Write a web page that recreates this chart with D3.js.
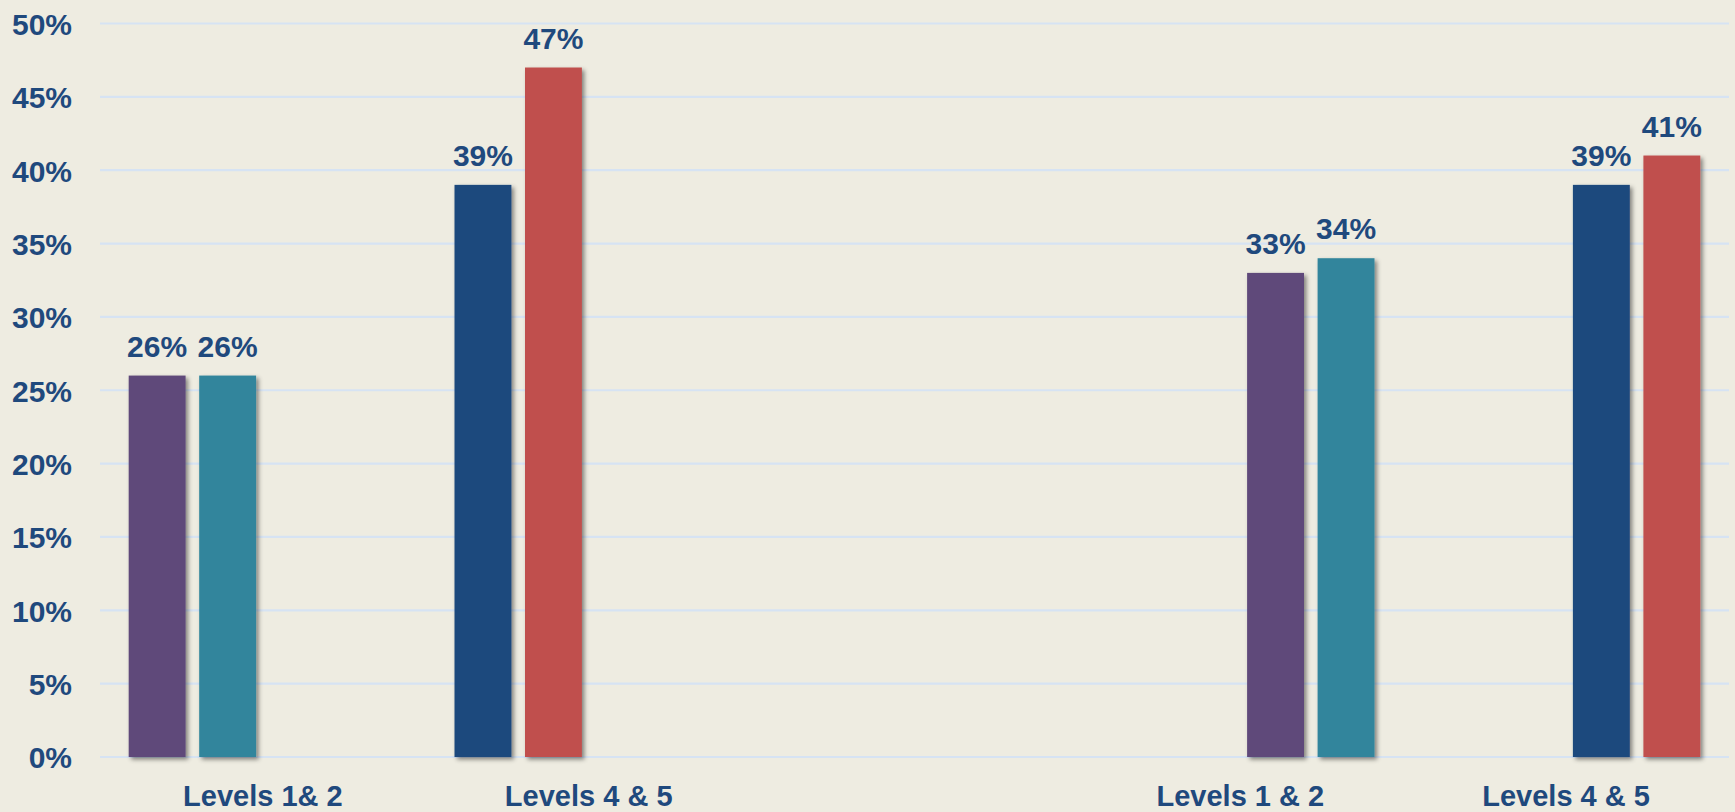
<!DOCTYPE html>
<html>
<head>
<meta charset="utf-8">
<script src="https://cdn.jsdelivr.net/npm/d3@7"></script>
<style>
  html, body { margin: 0; padding: 0; background: #EEECE1; }
  svg { display: block; }
  text { font-family: "Liberation Sans", Arial, sans-serif; font-weight: bold; fill: #1F497D; }
</style>
</head>
<body>
<svg id="chart" width="1735" height="812"></svg>
<script>
// ---- data ----
const categories = ["Levels 1& 2", "Levels 4 & 5", "", "Levels 1 & 2", "Levels 4 & 5"];
const slots = ["A", "B", "C", "D"];
const seriesA = [26, 39, null, null, null];
const seriesB = [26, 47, null, null, null];
const seriesC = [null, null, null, 33, 39];
const seriesD = [null, null, null, 34, 41];
const categoryColors = [
  ["#5F497A", "#31859C"],
  ["#1F497D", "#C0504D"],
  [null, null],
  ["#5F497A", "#31859C"],
  ["#1F497D", "#C0504D"]
];
const yTicks = [0, 5, 10, 15, 20, 25, 30, 35, 40, 45, 50];

// ---- layout ----
const W = 1735, H = 812;
const plot = { left: 100, right: 1729, top: 23.5, bottom: 757 };

const svg = d3.select("#chart");
svg.append("rect").attr("width", W).attr("height", H).attr("fill", "#EEECE1");

const defs = svg.append("defs");
const f = defs.append("filter").attr("id", "shadow")
  .attr("x", "-20%").attr("y", "-5%").attr("width", "140%").attr("height", "115%");
f.append("feDropShadow").attr("dx", 2.5).attr("dy", 2.5).attr("stdDeviation", 2)
  .attr("flood-color", "#000").attr("flood-opacity", 0.45);

const x = d3.scaleBand().domain(d3.range(categories.length))
  .range([plot.left, plot.right]).paddingInner(0).paddingOuter(0);
const xs = d3.scaleBand().domain(slots).range([0, x.bandwidth()])
  .paddingInner(0.193).paddingOuter(0.407);
const y = d3.scaleLinear().domain([0, 50]).range([plot.bottom, plot.top]);

// gridlines
svg.append("g").selectAll("line").data(yTicks).join("line")
  .attr("x1", plot.left).attr("x2", plot.right)
  .attr("y1", d => y(d)).attr("y2", d => y(d))
  .attr("stroke", "#D6E3F3").attr("stroke-width", 2.2);

// y axis labels
const yAxis = d3.axisLeft(y).tickValues(yTicks).tickFormat(d => d + "%").tickSize(0).tickPadding(0);
const gy = svg.append("g").attr("transform", `translate(72,0)`).call(yAxis);
gy.select(".domain").remove();
gy.selectAll("text").attr("font-size", 30).attr("fill", "#1F497D")
  .attr("font-family", "Liberation Sans, Arial, sans-serif").attr("font-weight", "bold")
  .attr("dy", "0.36em");

// x axis labels
const xAxis = d3.axisBottom(x).tickFormat(i => categories[i]).tickSize(0).tickPadding(0);
const gx = svg.append("g").attr("transform", `translate(0,${plot.bottom})`).call(xAxis);
gx.select(".domain").remove();
gx.selectAll("text").attr("font-size", 29).attr("fill", "#1F497D")
  .attr("font-family", "Liberation Sans, Arial, sans-serif").attr("font-weight", "bold")
  .attr("dy", 0).attr("y", 49);

// bars
const seriesList = [seriesA, seriesB, seriesC, seriesD];
const bars = [];
seriesList.forEach((s, si) => {
  s.forEach((v, ci) => {
    if (v != null) {
      const pairIndex = si % 2;
      bars.push({ cat: ci, slot: slots[si], value: v, color: categoryColors[ci][pairIndex] });
    }
  });
});

const gb = svg.append("g");
gb.selectAll("rect").data(bars).join("rect")
  .attr("x", d => x(d.cat) + xs(d.slot))
  .attr("width", xs.bandwidth())
  .attr("y", d => y(d.value))
  .attr("height", d => y(0) - y(d.value))
  .attr("fill", d => d.color)
  .attr("filter", "url(#shadow)");

svg.append("g").selectAll("text").data(bars).join("text")
  .attr("x", d => x(d.cat) + xs(d.slot) + xs.bandwidth() / 2)
  .attr("y", d => y(d.value) - 19)
  .attr("text-anchor", "middle")
  .attr("font-size", 30)
  .text(d => d.value + "%");
</script>
</body>
</html>
